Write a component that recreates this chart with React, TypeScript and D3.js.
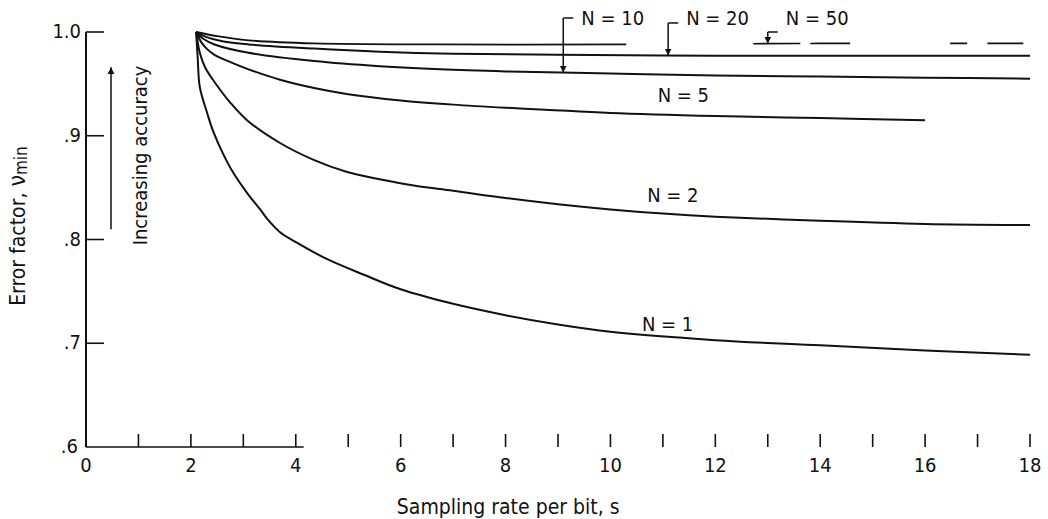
import React from 'react';
import * as d3 from 'd3';

// error factor curves, [sampling rate s, nu_min]
const n1: [number, number][] = [[2.1, 1.0], [2.13, 0.975], [2.17, 0.947], [2.31, 0.922], [2.42, 0.905], [2.61, 0.883], [2.8, 0.865], [3.07, 0.845], [3.32, 0.829], [3.47, 0.819], [3.7, 0.807], [4.02, 0.797], [4.6, 0.781], [5.3, 0.766], [6, 0.752], [7, 0.738], [8, 0.727], [9, 0.718], [10, 0.711], [12, 0.703], [14, 0.698], [16, 0.693], [18, 0.689]];
const n2: [number, number][] = [[2.1, 1.0], [2.17, 0.98], [2.27, 0.966], [2.42, 0.954], [2.75, 0.932], [3.07, 0.915], [3.7, 0.893], [4.33, 0.877], [4.98, 0.865], [5.6, 0.858], [6.25, 0.852], [7, 0.847], [8, 0.84], [9, 0.834], [10, 0.829], [11, 0.825], [12, 0.822], [14, 0.818], [16, 0.815], [18, 0.814]];
const n5: [number, number][] = [[2.1, 1.0], [2.2, 0.99], [2.3, 0.984], [2.45, 0.978], [2.8, 0.97], [3.1, 0.964], [3.7, 0.954], [4.35, 0.946], [5, 0.94], [6, 0.934], [7, 0.93], [8, 0.927], [10, 0.922], [12, 0.919], [14, 0.917], [16, 0.915]];
const n10: [number, number][] = [[2.1, 1.0], [2.25, 0.993], [2.45, 0.988], [3.1, 0.98], [4.35, 0.972], [5.6, 0.967], [6.75, 0.964], [8, 0.962], [10, 0.96], [12, 0.958], [14, 0.957], [16, 0.956], [18, 0.955]];
const n20: [number, number][] = [[2.1, 1.0], [2.3, 0.995], [2.6, 0.991], [3.1, 0.988], [4.35, 0.984], [5.6, 0.981], [7, 0.979], [9, 0.978], [12, 0.977], [15, 0.977], [18, 0.977]];
const n50: [number, number][] = [[2.1, 1.0], [2.5, 0.996], [3.1, 0.992], [4.35, 0.989], [6.75, 0.988], [10.3, 0.988], [14, 0.989], [18, 0.989]];

const xTickValues = [1, 2, 3, 4, 5, 6, 7, 8, 9, 10, 11, 12, 13, 14, 15, 16, 17, 18];
const xTickLabels = [0, 2, 4, 6, 8, 10, 12, 14, 16, 18];
const yTickValues = [1.0, 0.9, 0.8, 0.7];
const yTickLabels = ['1.0', '.9', '.8', '.7', '.6'];
const yLabelValues = [1.0, 0.9, 0.8, 0.7, 0.6];

// label placements [s, nu]
const curveLabels = [
    {text: 'N = 5', s: 10.9, v: 0.933},
    {text: 'N = 2', s: 10.7, v: 0.836},
    {text: 'N = 1', s: 10.6, v: 0.712},
];
const leaderLabels = [
    {text: 'N = 10', s: 9.1, data: n10, top: 1.0135},
    {text: 'N = 20', s: 11.1, data: n20, top: 1.0087},
    {text: 'N = 50', s: 13.0, data: n50, top: 1.0},
];

const FONT = '"Liberation Sans Narrow", "DejaVu Sans Condensed", "Roboto", sans-serif';

function valueAt(data: [number, number][], s: number) {
    const i = d3.bisector((d: [number, number]) => d[0]).left(data, s);
    if (i <= 0) return data[0][1];
    if (i >= data.length) return data[data.length - 1][1];
    const a = data[i - 1], b = data[i];
    return a[1] + (b[1] - a[1]) * (s - a[0]) / (b[0] - a[0]);
}

export default function App() {
    const width = 1048;
    const height = 519;

    const x = d3.scaleLinear().domain([0, 18]).range([86, 1030]);
    const y = d3.scaleLinear().domain([0.6, 1.0]).range([447, 32]);

    const line = d3.line<[number, number]>()
        .x(d => x(d[0]))
        .y(d => y(d[1]))
        .curve(d3.curveCatmullRom.alpha(0.5));

    const n50Solid = n50.filter(d => d[0] <= 10.3);
    const n50Rest = n50.filter(d => d[0] >= 10.3);

    const ink = '#111';

    return (
        <svg width={width} height={height} style={{position: 'absolute', left: 0, top: 0, background: '#fff'}}
             fontFamily={FONT}>
            <defs>
                <marker id="head" viewBox="0 0 10 10" refX="10" refY="5" markerWidth="7" markerHeight="9"
                        orient="auto" markerUnits="userSpaceOnUse">
                    <path d="M0,0 L10,5 L0,10 Z" fill={ink}/>
                </marker>
            </defs>

            {/* axes */}
            <line x1={x(0)} x2={x(0)} y1={y(1.0)} y2={y(0.6)} stroke={ink} strokeWidth={2}/>
            <line x1={x(0)} x2={x(4.15)} y1={y(0.6)} y2={y(0.6)} stroke={ink} strokeWidth={1.6}/>

            {yTickValues.map(d =>
                <line key={d} x1={x(0)} x2={x(0) + 18} y1={y(d)} y2={y(d)} stroke={ink} strokeWidth={1.6}/>
            )}
            {yLabelValues.map((d, i) =>
                <text key={d} x={x(0) - (i === 4 ? 8 : 5)} y={y(d) + 6} textAnchor="end"
                      fontSize={20} fill={ink}>{yTickLabels[i]}</text>
            )}

            {xTickValues.map(d =>
                <line key={d} x1={x(d)} x2={x(d)} y1={y(0.6)} y2={y(0.6) - 13} stroke={ink} strokeWidth={1.6}/>
            )}
            {xTickLabels.map(d =>
                <text key={d} x={x(d)} y={y(0.6) + 25} textAnchor="middle" fontSize={20} fill={ink}>{d}</text>
            )}

            <text x={x(8.05)} y={y(0.6) + 67} textAnchor="middle" fontSize={21} fill={ink}>Sampling rate per bit, s</text>
            <text transform={`translate(25,${y(0.813)}) rotate(-90)`} textAnchor="middle" fontSize={21} fill={ink}>
                Error factor, <tspan fontSize={23}>ν</tspan><tspan fontSize={17} dy={2}>min</tspan>
            </text>

            {/* increasing accuracy arrow */}
            <line x1={x(0) + 25} x2={x(0) + 25} y1={y(0.81)} y2={y(0.966)} stroke={ink} strokeWidth={1.5}
                  markerEnd="url(#head)"/>
            <text transform={`translate(${x(0) + 61},${y(0.881)}) rotate(-90)`} textAnchor="middle" fontSize={20}
                  fill={ink}>Increasing accuracy</text>

            {/* curves */}
            {[n1, n2, n5, n10, n20].map((d, i) =>
                <path key={i} d={line(d) || ''} fill="none" stroke={ink} strokeWidth={2}/>
            )}
            <path d={line(n50Solid) || ''} fill="none" stroke={ink} strokeWidth={1.8}/>
            <path d={line(n50Rest) || ''} fill="none" stroke={ink} strokeWidth={1.6}
                  strokeDasharray="0 127 47 10 40 100 17 20 36 60"/>

            {curveLabels.map(l =>
                <text key={l.text} x={x(l.s)} y={y(l.v)} fontSize={20} fill={ink}>{l.text}</text>
            )}

            {leaderLabels.map(l => {
                const px = x(l.s);
                const top = y(l.top);
                const tip = y(valueAt(l.data, l.s));
                return (
                    <g key={l.text}>
                        <line x1={px} x2={px + 10} y1={top} y2={top} stroke={ink} strokeWidth={1.5}/>
                        <line x1={px} x2={px} y1={top} y2={tip} stroke={ink} strokeWidth={1.5} markerEnd="url(#head)"/>
                        <text x={px + 18} y={y(1.0) - 7} fontSize={20} fill={ink}>{l.text}</text>
                    </g>
                );
            })}
        </svg>
    );
}
